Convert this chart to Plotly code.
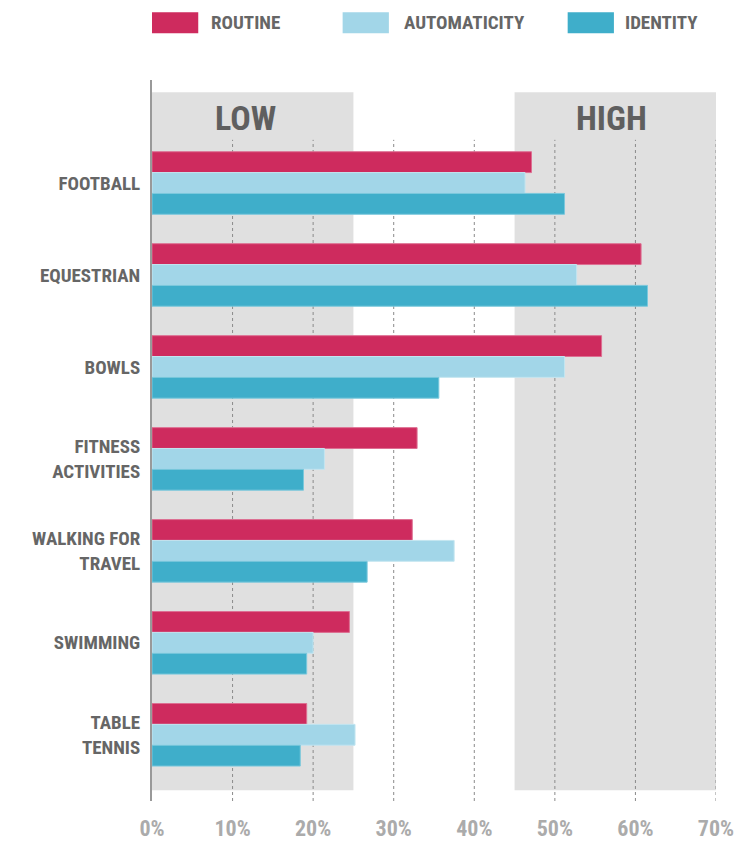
import plotly.graph_objects as go

categories = ["FOOTBALL", "EQUESTRIAN", "BOWLS", "FITNESS<br>ACTIVITIES",
              "WALKING FOR<br>TRAVEL", "SWIMMING", "TABLE<br>TENNIS"]
series_names = ["ROUTINE", "AUTOMATICITY", "IDENTITY"]
routine = [47.1, 60.7, 55.8, 32.9, 32.3, 24.5, 19.2]
automaticity = [46.3, 52.7, 51.2, 21.4, 37.5, 20.0, 25.2]
identity = [51.2, 61.5, 35.6, 18.8, 26.7, 19.2, 18.4]
x_ticks = [0, 10, 20, 30, 40, 50, 60, 70]
x_tick_labels = ["0%", "10%", "20%", "30%", "40%", "50%", "60%", "70%"]
zones = [("LOW", 0, 25, 11.6), ("HIGH", 45, 70, 57.0)]

colors = ["#CE2B5E", "#A2D6E8", "#3FAECA"]
line_colors = ["#DD6F92", "#C3E5F0", "#7BC8DC"]
FONT = "Liberation Sans Narrow, Arial Narrow, Roboto Condensed, Liberation Sans, sans-serif"

fig = go.Figure()
for name, vals, c, lc in zip(series_names, [routine, automaticity, identity], colors, line_colors):
    fig.add_trace(go.Bar(
        y=categories, x=vals, name=name, orientation="h",
        marker=dict(color=c, line=dict(color=lc, width=1)),
        showlegend=False, hoverinfo="x+name",
    ))

shapes = []
annotations = []
# background zones
for label, x0, x1, xc in zones:
    shapes.append(dict(type="rect", xref="x", yref="paper", x0=x0, x1=x1,
                       y0=0.015, y1=0.983, fillcolor="#E0E0E0",
                       line=dict(width=0), layer="below"))
    annotations.append(dict(x=xc, y=0.947, xref="x", yref="paper", text=label,
                            showarrow=False, xanchor="center", yanchor="middle",
                            font=dict(family=FONT, size=34, color="#5F5F5F", weight=700)))
# dotted grid lines
for t in x_ticks[1:]:
    shapes.append(dict(type="line", xref="x", yref="paper", x0=t, x1=t,
                       y0=0, y1=0.917, line=dict(color="#8A8A8A", width=1, dash="dot"),
                       layer="below"))

# custom legend
legend_pos = [(0.0, 0.082, 0.101), (0.338, 0.420, 0.443), (0.737, 0.819, 0.835)]
for name, c, (r0, r1, tx) in zip(series_names, colors, legend_pos):
    shapes.append(dict(type="rect", xref="paper", yref="paper", x0=r0, x1=r1,
                       y0=1.065, y1=1.094, fillcolor=c, line=dict(width=0)))
    annotations.append(dict(x=tx, y=1.0795, xref="paper", yref="paper", text=name,
                            showarrow=False, xanchor="left", yanchor="middle",
                            font=dict(family=FONT, size=19, color="#666666", weight=700)))

fig.update_layout(
    width=746, height=842,
    margin=dict(l=152, r=30, t=80, b=41, autoexpand=False),
    paper_bgcolor="white", plot_bgcolor="white",
    barmode="group", bargap=0.32, bargroupgap=0,
    shapes=shapes, annotations=annotations,
    xaxis=dict(range=[0, 70], tickvals=x_ticks, ticktext=x_tick_labels,
               showgrid=False, zeroline=False, showline=False, ticks="",
               ticklabelstandoff=12, automargin=False,
               tickfont=dict(family=FONT, size=22, color="#ABABAB", weight=700),
               fixedrange=True),
    yaxis=dict(type="category", categoryorder="array", categoryarray=categories,
               range=[6.72, -1.12], showgrid=False, zeroline=False,
               showline=True, linecolor="#999999", linewidth=2, ticks="",
               ticklabelstandoff=6, automargin=False,
               tickfont=dict(family=FONT, size=19, color="#666666", weight=700),
               fixedrange=True),
)

fig.write_html("out.html")
